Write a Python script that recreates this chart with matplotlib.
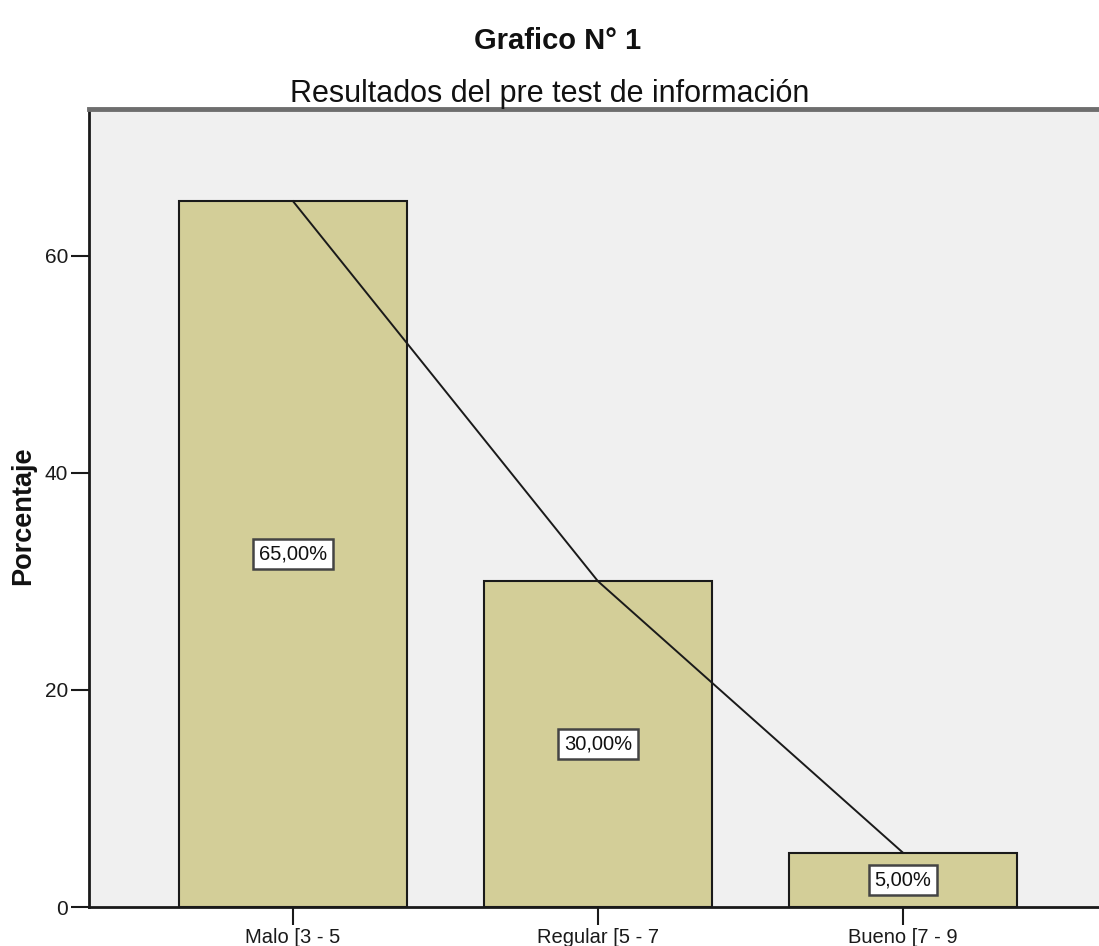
"""Bar chart: pre test results (Grafico N° 1)."""

import matplotlib
matplotlib.use("Agg")
import matplotlib.pyplot as plt

plt.rcParams["font.family"] = ["Liberation Sans", "DejaVu Sans"]
NARROW = ["Liberation Sans Narrow", "Liberation Sans", "DejaVu Sans"]

# data
categories = ["Malo [3 - 5", "Regular [5 - 7", "Bueno [7 - 9"]
percentages = [65.0, 30.0, 5.0]
bar_labels = ["65,00%", "30,00%", "5,00%"]
y_ticks = [0, 20, 40, 60]

fig = plt.figure(figsize=(10.99, 9.46), dpi=100)
fig.patch.set_facecolor("white")

# axes run slightly past the right edge, as in the original
ax = fig.add_axes([0.081, 0.0412, 0.9263, 0.8436])
ax.set_facecolor("#F0F0F0")

x = list(range(len(categories)))
ax.bar(x, percentages, width=0.75, color="#D3CE98", edgecolor="#1a1a1a",
       linewidth=1.5, zorder=2)
ax.plot(x, percentages, color="#1a1a1a", linewidth=1.4, zorder=3)

# value labels in the middle of each bar
for xi, val, lab in zip(x, percentages, bar_labels):
    ax.text(xi, val / 2, lab, ha="center", va="center", fontsize=14.5,
            color="#111111", zorder=4,
            bbox=dict(boxstyle="square,pad=0.28", facecolor="white",
                      edgecolor="#444444", linewidth=1.8))

ax.set_xlim(-0.669, 2.669)
ax.set_ylim(0, 73.5)
ax.set_xticks(x)
ax.set_xticklabels(categories, family=NARROW)
ax.set_yticks(y_ticks)

ax.tick_params(axis="both", length=13, width=1.5, color="#1a1a1a",
               labelcolor="#1a1a1a")
ax.tick_params(axis="y", labelsize=15, pad=2)
ax.tick_params(axis="x", labelsize=14.5, pad=2)

# spines
ax.spines["left"].set_linewidth(2)
ax.spines["bottom"].set_linewidth(2)
ax.spines["left"].set_color("#1a1a1a")
ax.spines["bottom"].set_color("#1a1a1a")
ax.spines["top"].set_linewidth(3.5)
ax.spines["top"].set_color("#6e6e6e")
ax.spines["right"].set_visible(False)

# titles and axis label
fig.text(0.507, 0.948, "Grafico N° 1", ha="center", va="baseline",
         fontsize=21, fontweight="bold", color="#111111")
fig.text(0.5005, 0.8925, "Resultados del pre test de información",
         ha="center", va="baseline", fontsize=22, color="#111111")
fig.text(0.021, 0.455, "Porcentaje", ha="center", va="center",
         rotation=90, fontsize=19.5, fontweight="bold", color="#111111")

plt.savefig("out.png", dpi=100)
